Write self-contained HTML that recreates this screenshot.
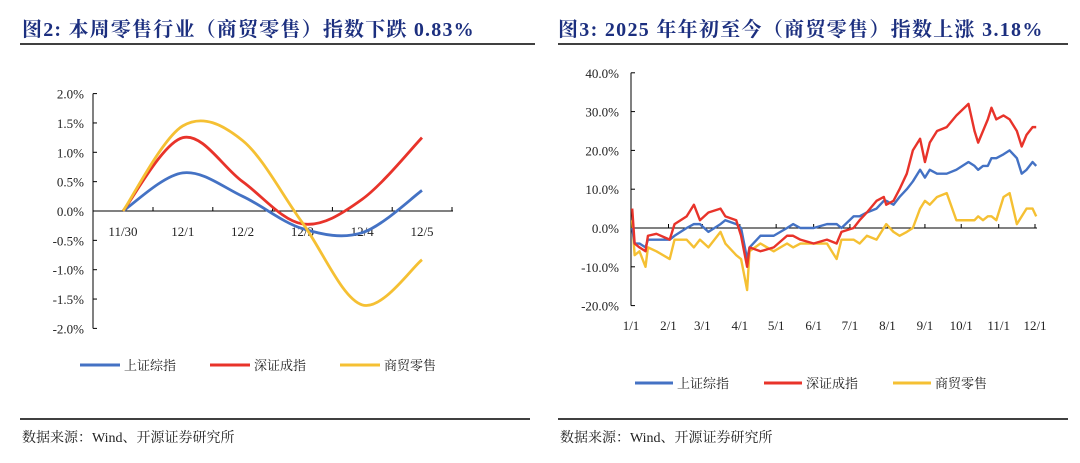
<!DOCTYPE html>
<html><head><meta charset="utf-8"><style>
body{margin:0;background:#fff;width:1080px;height:458px;overflow:hidden}
svg text{font-family:"Liberation Serif","Noto Serif CJK SC",serif}
</style></head><body>
<svg id="s" width="1080" height="458" xmlns="http://www.w3.org/2000/svg">
<text x="22" y="36" font-size="20" letter-spacing="1.2" font-weight="bold" fill="#1c2f7f">图2:  本周零售行业（商贸零售）指数下跌 0.83%</text>
<line x1="20" y1="44" x2="535" y2="44" stroke="#000" stroke-width="1.5"/>
<text x="558" y="36" font-size="20" letter-spacing="1.3" font-weight="bold" fill="#1c2f7f">图3:  2025 年年初至今（商贸零售）指数上涨 3.18%</text>
<line x1="558" y1="44" x2="1068" y2="44" stroke="#000" stroke-width="1.5"/>
<line x1="20" y1="419" x2="530" y2="419" stroke="#000" stroke-width="1.5"/>
<line x1="558" y1="419" x2="1068" y2="419" stroke="#000" stroke-width="1.5"/>
<text x="22" y="442" font-size="14" fill="#222">数据来源：Wind、开源证券研究所</text>
<text x="560" y="442" font-size="14" fill="#222">数据来源：Wind、开源证券研究所</text>
<g id="L"></g><g id="R"></g>
</svg>
<script>
const cats1=["11/30","12/1","12/2","12/3","12/4","12/5"];
const sh1=[0,0.65,0.25,-0.3,-0.37,0.35];
const sz1=[0,1.25,0.5,-0.22,0.2,1.25];
const sm1=[0,1.45,1.2,-0.2,-1.6,-0.83];
const yTicks1=[2,1.5,1,0.5,0,-0.5,-1,-1.5,-2];

const days2=[1,3,7,12,14,21,32,36,46,52,57,64,74,78,87,91,96,98,107,118,129,134,140,151,162,170,174,184,189,195,203,209,211,217,222,228,233,239,243,247,253,261,269,279,284,287,291,295,298,302,308,313,319,323,327,332,335];
const sz2=[5,-4,-5,-6,-2,-1.5,-3,1,3,6,2,4,5,3,2,-2,-10,-5,-6,-5,-2,-2,-3,-4,-3,-4,-1,0,2,4,7,8,6,7,10,14,20,23,17,22,25,26,29,32,25,22,25,28,31,28,29,28,25,21,24,26,26];
const sh2=[0,-4,-4,-5,-3,-3,-3,-2,0,1,1,-1,1,2,1,0,-8,-5,-2,-2,0,1,0,0,1,1,0,3,3,4,5,7,7,6,8,10,12,15,13,15,14,14,15,17,16,15,16,16,18,18,19,20,18,14,15,17,16];
const sm2=[2,-7,-6,-10,-5,-6,-8,-3,-3,-5,-3,-5,-1,-4,-7,-8,-16,-6,-4,-6,-4,-5,-4,-4,-4,-8,-3,-3,-4,-2,-3,0,1,-1,-2,-1,0,5,7,6,8,9,2,2,2,3,2,3,3,2,8,9,1,3,5,5,3];
const yTicks2=[40,30,20,10,0,-10,-20];
const monthLabels=["1/1","2/1","3/1","4/1","5/1","6/1","7/1","8/1","9/1","10/1","11/1","12/1"];
const monthDays=[0,31,59,90,120,151,181,212,243,273,304,334];

const NS="http://www.w3.org/2000/svg";
const C={sh:"#4472c4",sz:"#e8332a",sm:"#f5c033"};
function mk(p,t,a){const e=document.createElementNS(NS,t);for(const k in a)e.setAttribute(k,a[k]);p.appendChild(e);return e;}
function txt(p,x,y,s,anchor,size){const e=mk(p,"text",{x:x,y:y,"font-size":size||13,"text-anchor":anchor||"start",fill:"#222"});e.textContent=s;return e;}
function smooth(pts){let d="M"+pts[0][0]+","+pts[0][1];for(let i=0;i<pts.length-1;i++){const p0=pts[i-1]||pts[i],p1=pts[i],p2=pts[i+1],p3=pts[i+2]||p2;const t=6;d+=" C"+(p1[0]+(p2[0]-p0[0])/t)+","+(p1[1]+(p2[1]-p0[1])/t)+" "+(p2[0]-(p3[0]-p1[0])/t)+","+(p2[1]-(p3[1]-p1[1])/t)+" "+p2[0]+","+p2[1];}return d;}

// Left chart
const L=document.getElementById("L");
const lx=i=>123+i*59.8, ly=v=>211-v*58.7;
mk(L,"line",{x1:93,y1:ly(2),x2:93,y2:ly(-2),stroke:"#000"});
yTicks1.forEach(v=>{mk(L,"line",{x1:93,y1:ly(v),x2:97,y2:ly(v),stroke:"#000"});
const t=txt(L,84,ly(v)+5,v.toFixed(1)+"%","end");

});
mk(L,"line",{x1:93,y1:211,x2:453,y2:211,stroke:"#000"});
cats1.forEach((c,i)=>{mk(L,"line",{x1:lx(i)+30,y1:211,x2:lx(i)+30,y2:207,stroke:"#000"});
const t=txt(L,lx(i),236,c,"middle");

});
[[sh1,"sh"],[sz1,"sz"],[sm1,"sm"]].forEach(([arr,k])=>{
const p=mk(L,"path",{d:smooth(arr.map((v,i)=>[lx(i),ly(v)])),fill:"none",stroke:C[k],"stroke-width":2.8});

});
const names=["上证综指","深证成指","商贸零售"],keys=["sh","sz","sm"];
keys.forEach((k,i)=>{const x=80+i*130;
mk(L,"line",{x1:x,y1:365,x2:x+40,y2:365,stroke:C[k],"stroke-width":3});
const t=txt(L,x+44,370,names[i],"start",13);

});

// Right chart
const R=document.getElementById("R");
const rx=d=>631+d*1.2096, ry=v=>228-v*3.88;
mk(R,"line",{x1:631,y1:ry(40),x2:631,y2:ry(-20),stroke:"#000"});
yTicks2.forEach(v=>{mk(R,"line",{x1:631,y1:ry(v),x2:635,y2:ry(v),stroke:"#000"});
const t=txt(R,619,ry(v)+5,v.toFixed(1)+"%","end");

});
mk(R,"line",{x1:631,y1:228,x2:1037,y2:228,stroke:"#000"});
monthLabels.forEach((m,i)=>{const x=rx(monthDays[i]);
mk(R,"line",{x1:x,y1:228,x2:x,y2:224,stroke:"#000"});
const t=txt(R,x,330,m,"middle");

});
[[sm2,"sm"],[sh2,"sh"],[sz2,"sz"]].forEach(([arr,k])=>{
const p=mk(R,"polyline",{points:arr.map((v,i)=>rx(days2[i])+","+ry(v)).join(" "),fill:"none",stroke:C[k],"stroke-width":2.4,"stroke-linejoin":"round"});

});
keys.forEach((k,i)=>{const x=635+i*129;
mk(R,"line",{x1:x,y1:383,x2:x+38,y2:383,stroke:C[k],"stroke-width":3});
const t=txt(R,x+42,388,names[i],"start",13);

});
</script>
</body></html>
